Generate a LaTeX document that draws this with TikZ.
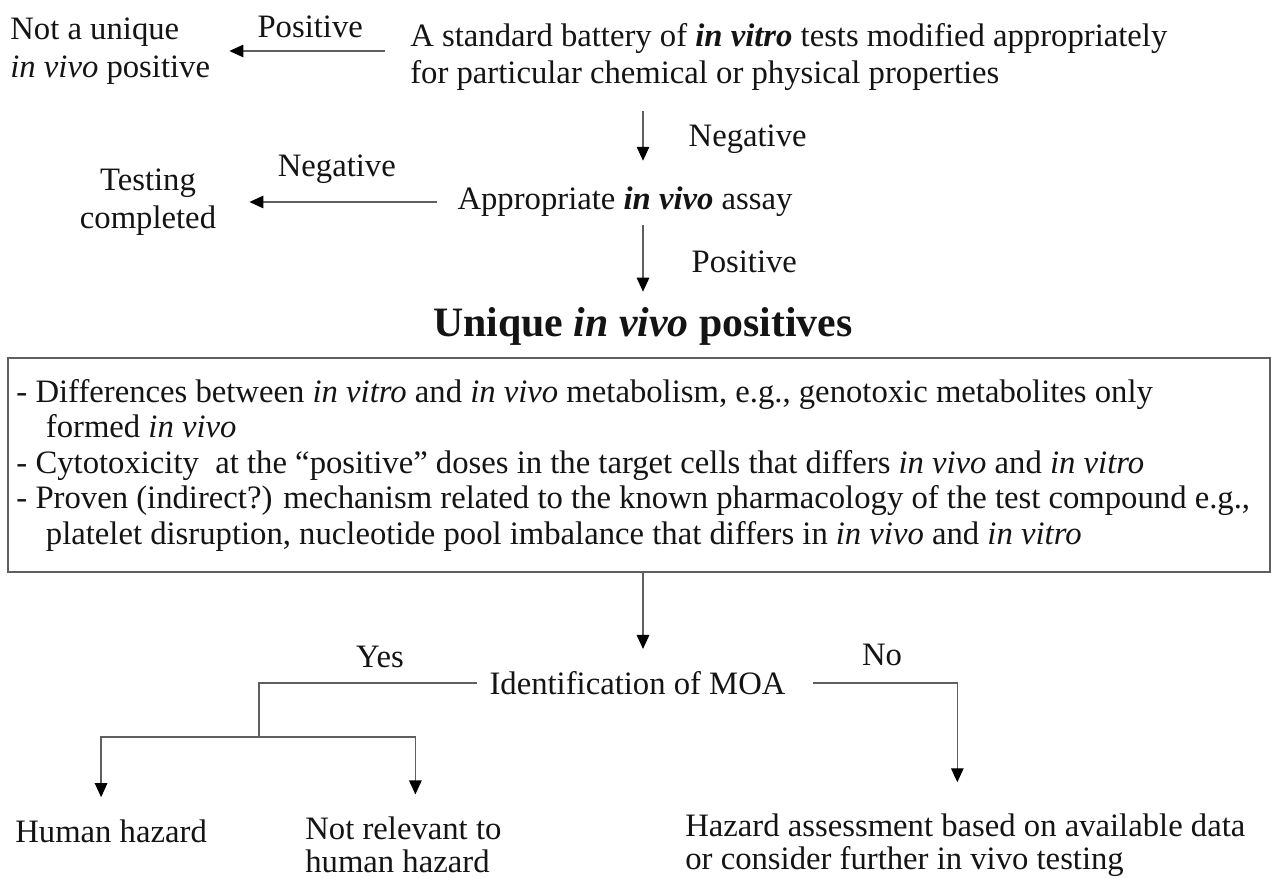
\documentclass[tikz,border=0pt]{standalone}
\usepackage{fontspec}
\setmainfont{Liberation Serif}
\usetikzlibrary{arrows.meta,positioning}
\definecolor{wire}{RGB}{95,95,95}
\definecolor{ink}{RGB}{20,20,20}
\tikzset{
  >={Triangle[length=2.8mm,width=2.5mm,color=black]},
  txt/.style={font=\fontsize{18.6}{21.5}\selectfont,text=ink,inner sep=0pt,align=#1},
  txt/.default=flush left,
  lbl/.style={font=\fontsize{18.6}{21.5}\selectfont,text=ink,inner sep=0pt},
  flow/.style={->,draw=wire,line width=0.75pt},
  wire/.style={draw=wire,line width=0.75pt},
  reasons/.style={draw=wire,line width=0.9pt,inner sep=0pt,minimum width=25.24cm,
    minimum height=4.28cm,text width=24.9cm,align=flush left,
    font=\fontsize{18.6}{20.2}\selectfont,text=ink},
}
\begin{document}
\begin{tikzpicture}
  \useasboundingbox (0,0) rectangle (25.42,17.54);
  % first screen
  \node[txt] (battery) at (8.2,16.4) [anchor=west] {A standard battery of \textbf{\textit{in vitro}} tests modified appropriately\\for particular chemical or physical properties};
  \node[txt] (nonuniq) at (0.2,16.52) [anchor=west] {Not a unique\\\textit{in vivo} positive};
  \node[txt] (assay) at (12.5,13.5) {Appropriate \textbf{\textit{in vivo}} assay};
  \node[txt=center] (done) at (2.96,13.5) {Testing\\completed};
  \node[txt,font=\fontsize{23.8}{27}\selectfont\bfseries] (title) at (12.86,11.02) {Unique \textit{in vivo} positives};
  \draw[flow,shorten <=0.5cm,shorten >=0.38cm] (battery.west |- nonuniq.east) -- (nonuniq.east)
    node[lbl,midway,above=0.26cm] {Positive};
  \draw[flow,shorten <=0.4cm,shorten >=0.66cm] (assay.west) -- (done.east)
    node[lbl,midway,above=0.36cm] {Negative};
  \draw[flow,shorten <=0.4cm,shorten >=0.52cm] (battery.south -| title) -- (assay.north -| title)
    node[lbl,midway,right=0.9cm] {Negative};
  \draw[flow,shorten <=0.16cm,shorten >=0.3cm] (assay.south -| title) -- (title.north)
    node[lbl,midway,right=0.96cm] {Positive};
  % reasons box
  \node[reasons] (box) at (12.78,8.24) {%
    - Differences between \textit{in vitro} and \textit{in vivo} metabolism, e.g., genotoxic metabolites only\\
    \hspace*{0.9em}formed \textit{in vivo}\\
    - Cytotoxicity \ at the ``positive'' doses in the target cells that differs \textit{in vivo} and \textit{in vitro}\\
    - Proven (indirect?) mechanism related to the known pharmacology of the test compound e.g.,\\
    \hspace*{0.9em}platelet disruption, nucleotide pool imbalance that differs in \textit{in vivo} and \textit{in vitro}};
  % MOA branches
  \node[txt] (moa) at (12.75,3.88) {Identification of MOA};
  \node[txt] (human) at (0.3,0.92) [anchor=west] {Human hazard};
  \node[txt,font=\fontsize{18.6}{19}\selectfont] (notrel) at (6.1,0.94) [anchor=west,yshift=-0.3cm] {Not relevant to\\human hazard};
  \node[txt,font=\fontsize{18.6}{18.8}\selectfont] (hazard) at (13.7,0.96) [anchor=west,yshift=-0.32cm] {Hazard assessment based on available data\\or consider further in vivo testing};
  \coordinate (split) at (5.18,2.8);
  \draw[flow,shorten >=0.44cm] (box.south -| title) -- (moa.north -| title);
  \draw[wire,shorten <=0.24cm] (moa.west) -| (split);
  \draw[flow,shorten >=0.44cm] (split) -| ([xshift=-0.2cm]human.north);
  \draw[flow,shorten >=0.44cm] (split) -| ([xshift=0.24cm]notrel.north);
  \draw[flow,shorten <=0.54cm,shorten >=0.62cm] (moa.east) -| ([xshift=-0.16cm]hazard.north);
  \node[lbl] at (7.6,4.4) {Yes};
  \node[lbl] at (17.64,4.44) {No};
\end{tikzpicture}
\end{document}
